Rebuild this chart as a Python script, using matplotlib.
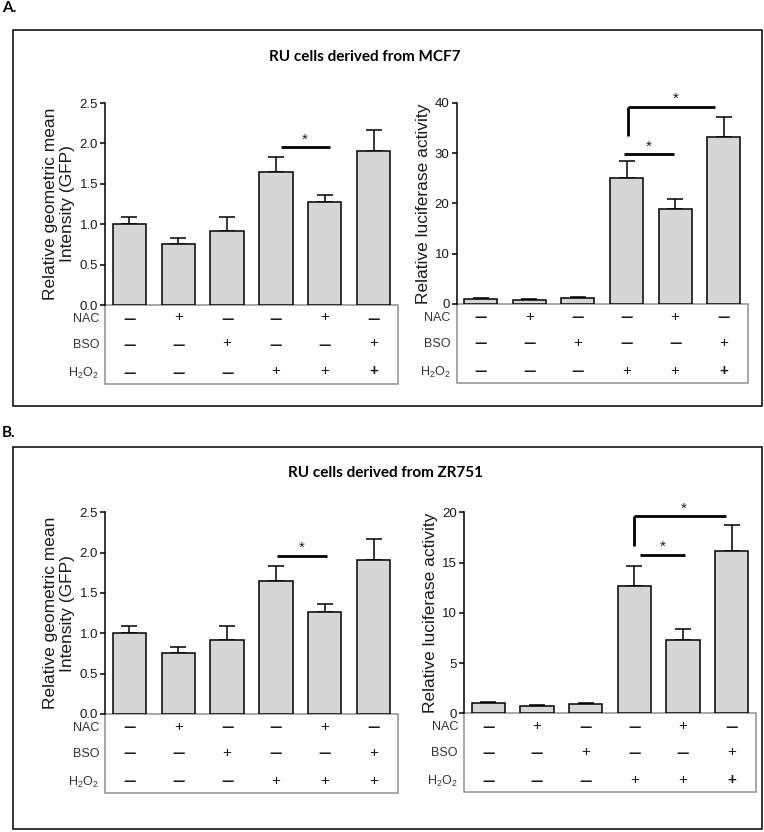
import matplotlib
matplotlib.use('Agg')
import matplotlib.pyplot as plt
from matplotlib.patches import Rectangle
from matplotlib.transforms import blended_transform_factory

W, H, DPI = 764, 832, 100

# treatment table (one entry per bar)
nac = ['-', '+', '-', '-', '+', '-']
bso = ['-', '-', '+', '-', '-', '+']
h2o2 = ['-', '-', '-', '+', '+', '+']

# GFP intensity (same in both cell lines)
gfp_mean = [1.00, 0.75, 0.92, 1.65, 1.27, 1.91]
gfp_err = [0.09, 0.08, 0.17, 0.18, 0.09, 0.26]

# luciferase activity
mcf7_luc = [1.0, 0.85, 1.25, 25.1, 18.8, 33.1]
mcf7_luc_err = [0.1, 0.1, 0.15, 3.3, 2.1, 4.0]
zr751_luc = [1.0, 0.75, 0.9, 12.7, 7.25, 16.15]
zr751_luc_err = [0.1, 0.08, 0.15, 2.0, 1.1, 2.55]

# significance marks: (x0, x1, y, drop_to)  drop_to=None -> plain line
mcf7_gfp_sig = [(3.1, 4.1, 1.95, None)]
mcf7_luc_sig = [(2.95, 3.97, 29.8, None), (3.02, 4.83, 39.2, 33.3)]
zr751_gfp_sig = [(3.03, 4.04, 1.96, None)]
zr751_luc_sig = [(3.12, 4.05, 15.8, None), (3.0, 4.88, 19.63, 16.6)]

BAR_COLOR = '#d6d6d6'
TABLE_EDGE = '#8f8f8f'
TEXT_COLOR = '#1a1a1a'

plt.rcParams['font.family'] = ['Liberation Sans', 'DejaVu Sans']
plt.rcParams['mathtext.default'] = 'regular'


def px_axes(fig, x0, y0, x1, y1):
    return fig.add_axes([x0 / W, 1 - y1 / H, (x1 - x0) / W, (y1 - y0) / H])


def draw_bars(ax, vals, errs, ymax, yticks, fmt, ylabel):
    x = list(range(len(vals)))
    ax.errorbar(x, vals, yerr=[[0] * len(errs), errs], fmt='none', ecolor='black',
                elinewidth=1.1, capsize=6, capthick=1.1, zorder=2)
    ax.bar(x, vals, width=0.68, color=BAR_COLOR, edgecolor='black', lw=1.1, zorder=3)
    ax.set_xlim(-0.5, len(vals) - 0.5)
    ax.set_ylim(0, ymax)
    ax.set_yticks(yticks)
    ax.set_yticklabels([fmt.format(t) for t in yticks])
    ax.set_xticks([])
    for side in ('top', 'right', 'bottom'):
        ax.spines[side].set_visible(False)
    ax.spines['left'].set_linewidth(1.1)
    ax.tick_params(axis='y', direction='out', length=3.5, width=1.1, labelsize=9.5,
                   pad=1.5, colors=TEXT_COLOR)
    ax.tick_params(axis='y', color='black')
    ax.set_ylabel(ylabel, fontsize=12.5, color=TEXT_COLOR, labelpad=3)
    ax.patch.set_visible(False)


def draw_sig(ax, marks, star_dy):
    for x0, x1, y, drop in marks:
        ax.plot([x0, x1], [y, y], color='black', lw=2.0, clip_on=False, zorder=4,
                solid_capstyle='butt')
        if drop is not None:
            ax.plot([x0, x0], [y, drop], color='black', lw=2.0, clip_on=False, zorder=4,
                    solid_capstyle='butt')
            xs = (x0 + x1) / 2 + 0.08
        else:
            xs = (x0 + x1) / 2
        ax.text(xs, y + star_dy, '*', ha='center', va='center', fontsize=11,
                color=TEXT_COLOR, clip_on=False)


def draw_table(ax, bold_last):
    pos = ax.get_position()
    hpx, wpx = pos.height * H, pos.width * W
    trans = blended_transform_factory(ax.transData, ax.transAxes)
    ax.add_patch(Rectangle((-0.5, -79 / hpx), 6, 79 / hpx, transform=trans, fill=False,
                           ec=TABLE_EDGE, lw=1.1, clip_on=False, zorder=1))
    rows = [('NAC', nac, 14), ('BSO', bso, 40), ('H$_2$O$_2$', h2o2, 68)]
    for label, signs, off in rows:
        y = -off / hpx
        ax.text(-6 / wpx, y, label, transform=ax.transAxes, ha='right', va='center',
                fontsize=9, color='#333333')
        for i, s in enumerate(signs):
            heavy = bold_last and label.startswith('H') and i == len(signs) - 1
            if s == '-':
                ax.text(i, y, '\u2014', transform=trans, ha='center', va='center',
                        fontsize=9, fontweight='bold', family='DejaVu Sans', color=TEXT_COLOR)
            else:
                ax.text(i, y + 1.5 / hpx, '+', transform=trans, ha='center', va='center',
                        fontsize=11, fontweight='bold' if heavy else 'normal',
                        color=TEXT_COLOR)


def panel_frame(fig, y0, y1, letter, ly, title, tx, ty):
    fig.add_artist(Rectangle((13 / W, 1 - y1 / H), (762 - 13) / W, (y1 - y0) / H,
                             transform=fig.transFigure, fill=False, ec='black', lw=1.1))
    fig.text(2 / W, 1 - ly / H, letter, ha='left', va='center', fontsize=11,
             fontweight='bold', family='Lato')
    fig.text(tx / W, 1 - ty / H, title, ha='center', va='center', fontsize=11,
             fontweight='bold', family='Lato')


def main():
    fig = plt.figure(figsize=(W / DPI, H / DPI), dpi=DPI)
    fig.patch.set_facecolor('white')

    panel_frame(fig, 30, 406, 'A.', 8, 'RU cells derived from MCF7', 365, 57)
    panel_frame(fig, 447, 829, 'B.', 433, 'RU cells derived from ZR751', 385, 473)

    gfp_label = 'Relative geometric mean\nIntensity (GFP)'
    luc_label = 'Relative luciferase activity'

    ax = px_axes(fig, 105, 103, 398, 305)
    draw_bars(ax, gfp_mean, gfp_err, 2.5, [0, 0.5, 1.0, 1.5, 2.0, 2.5], '{:.1f}', gfp_label)
    draw_sig(ax, mcf7_gfp_sig, 0.1)
    draw_table(ax, bold_last=True)

    ax = px_axes(fig, 456.5, 102.7, 748, 304)
    draw_bars(ax, mcf7_luc, mcf7_luc_err, 40, [0, 10, 20, 30, 40], '{:d}', luc_label)
    draw_sig(ax, mcf7_luc_sig, 1.5)
    draw_table(ax, bold_last=True)

    ax = px_axes(fig, 105, 512.3, 398, 714)
    draw_bars(ax, gfp_mean, gfp_err, 2.5, [0, 0.5, 1.0, 1.5, 2.0, 2.5], '{:.1f}', gfp_label)
    draw_sig(ax, zr751_gfp_sig, 0.1)
    draw_table(ax, bold_last=False)

    ax = px_axes(fig, 464, 512.3, 756, 713.3)
    draw_bars(ax, zr751_luc, zr751_luc_err, 20, [0, 5, 10, 15, 20], '{:d}', luc_label)
    draw_sig(ax, zr751_luc_sig, 0.75)
    draw_table(ax, bold_last=True)

    fig.savefig('out.png', dpi=DPI, facecolor='white')


if __name__ == '__main__':
    main()
